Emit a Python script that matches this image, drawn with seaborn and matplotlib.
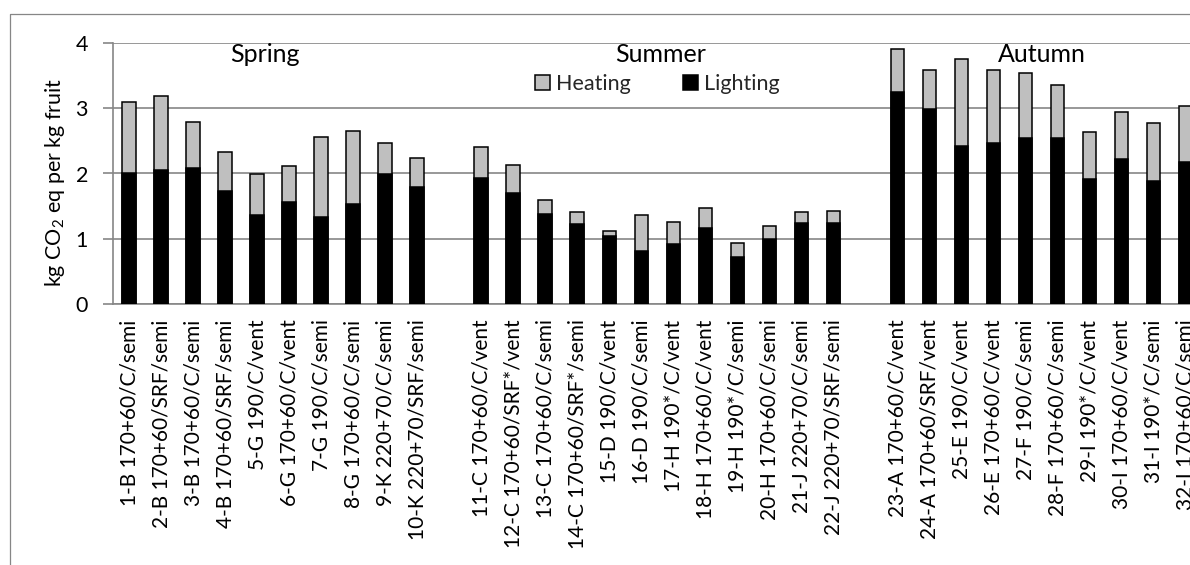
import matplotlib
matplotlib.use("Agg")
import matplotlib.pyplot as plt
from matplotlib.patches import Patch
from matplotlib.lines import Line2D
import seaborn as sns
import pandas as pd

spring_labels = ["1-B 170+60/C/semi", "2-B 170+60/SRF/semi", "3-B 170+60/C/semi",
                 "4-B 170+60/SRF/semi", "5-G 190/C/vent", "6-G 170+60/C/vent",
                 "7-G 190/C/semi", "8-G 170+60/C/semi", "9-K 220+70/C/semi",
                 "10-K 220+70/SRF/semi"]
summer_labels = ["11-C 170+60/C/vent", "12-C 170+60/SRF*/vent", "13-C 170+60/C/semi",
                 "14-C 170+60/SRF*/semi", "15-D 190/C/vent", "16-D 190/C/semi",
                 "17-H 190*/C/vent", "18-H 170+60/C/vent", "19-H 190*/C/semi",
                 "20-H 170+60/C/semi", "21-J 220+70/C/semi", "22-J 220+70/SRF/semi"]
autumn_labels = ["23-A 170+60/C/vent", "24-A 170+60/SRF/vent", "25-E 190/C/vent",
                 "26-E 170+60/C/vent", "27-F 190/C/semi", "28-F 170+60/C/semi",
                 "29-I 190*/C/vent", "30-I 170+60/C/vent", "31-I 190*/C/semi",
                 "32-I 170+60/C/semi"]

spring_total = [3.10, 3.18, 2.79, 2.33, 1.99, 2.12, 2.56, 2.65, 2.47, 2.24]
spring_light = [2.01, 2.05, 2.08, 1.74, 1.36, 1.56, 1.33, 1.54, 1.99, 1.79]
summer_total = [2.41, 2.13, 1.59, 1.41, 1.12, 1.36, 1.26, 1.47, 0.94, 1.19, 1.41, 1.42]
summer_light = [1.93, 1.70, 1.38, 1.23, 1.045, 0.82, 0.92, 1.17, 0.73, 1.00, 1.24, 1.25]
autumn_total = [3.90, 3.58, 3.75, 3.59, 3.54, 3.35, 2.64, 2.94, 2.77, 3.03]
autumn_light = [3.24, 2.99, 2.42, 2.47, 2.55, 2.55, 1.91, 2.22, 1.88, 2.18]

seasons = ["Spring", "Summer", "Autumn"]
season_x = [4.25, 16.6, 28.5]

labels = spring_labels + summer_labels + autumn_labels
lighting = spring_light + summer_light + autumn_light
total = spring_total + summer_total + autumn_total
heating = [t - l for t, l in zip(total, lighting)]

df = pd.DataFrame({"label": labels, "Lighting": lighting, "Heating": heating})
df["Total"] = df["Lighting"] + df["Heating"]
order = spring_labels + [" "] + summer_labels + ["  "] + autumn_labels

sns.set_theme(style="white")
plt.rcParams["font.family"] = ["Lato", "DejaVu Sans"]
plt.rcParams["mathtext.fontset"] = "custom"
plt.rcParams["mathtext.rm"] = "Lato"
plt.rcParams["mathtext.it"] = "Lato:italic"

W, H = 1190, 565
fig = plt.figure(figsize=(W / 100, H / 100), dpi=100)
ax = fig.add_axes([113 / W, (H - 304.3) / H, 1088.5 / W, 261.6 / H])

gray_col = "#bfbfbf"
grid_col = "#868686"
sns.barplot(data=df, x="label", y="Total", order=order, color=gray_col,
            width=0.42, edgecolor="black", linewidth=1.1, saturation=1, ax=ax, zorder=3)
sns.barplot(data=df, x="label", y="Lighting", order=order, color="black",
            width=0.42, edgecolor="black", linewidth=1.1, saturation=1, ax=ax, zorder=4)

ax.set_xlim(-0.5, len(order) - 0.5)
ax.set_ylim(0, 4)
ax.set_yticks([0, 1, 2, 3, 4])
ax.yaxis.grid(True, color=grid_col, linewidth=1.2)
ax.set_axisbelow(True)
for s in ["top", "right"]:
    ax.spines[s].set_visible(False)
for s in ["left", "bottom"]:
    ax.spines[s].set_color(grid_col)
    ax.spines[s].set_linewidth(1.2)

ax.tick_params(axis="y", which="major", left=True, length=7.2, width=1.2,
               color=grid_col, pad=10.8, labelsize=15.5, labelcolor="black")
ax.tick_params(axis="x", length=0, pad=11, labelsize=15, labelcolor="black")
plt.setp(ax.get_xticklabels(), rotation=90)

ax.set_xlabel("")
ax.set_ylabel(r"kg CO$_2$ eq per kg fruit", fontsize=15.5, color="black", va="center")
ax.yaxis.set_label_coords(-0.0533, 0.4675)

for name, xs in zip(seasons, season_x):
    ax.text(xs, 3.70, name, ha="center", va="baseline", fontsize=18, color="black")

handles = [Patch(facecolor=gray_col, edgecolor="black", linewidth=1.1, label="Heating"),
           Patch(facecolor="black", edgecolor="black", linewidth=1.1, label="Lighting")]
fig.legend(handles=handles, loc="center", bbox_to_anchor=(657.5 / W, 1 - 84 / H),
           ncol=2, frameon=False, fontsize=15.5, handlelength=0.7, handleheight=0.7,
           handletextpad=0.3, columnspacing=2.4)

fig.add_artist(Line2D([10 / W, 10 / W, 1.0], [0.0, 1 - 14 / H, 1 - 14 / H],
                      transform=fig.transFigure, color=grid_col, linewidth=0.9))

fig.savefig("out.png", dpi=100)
